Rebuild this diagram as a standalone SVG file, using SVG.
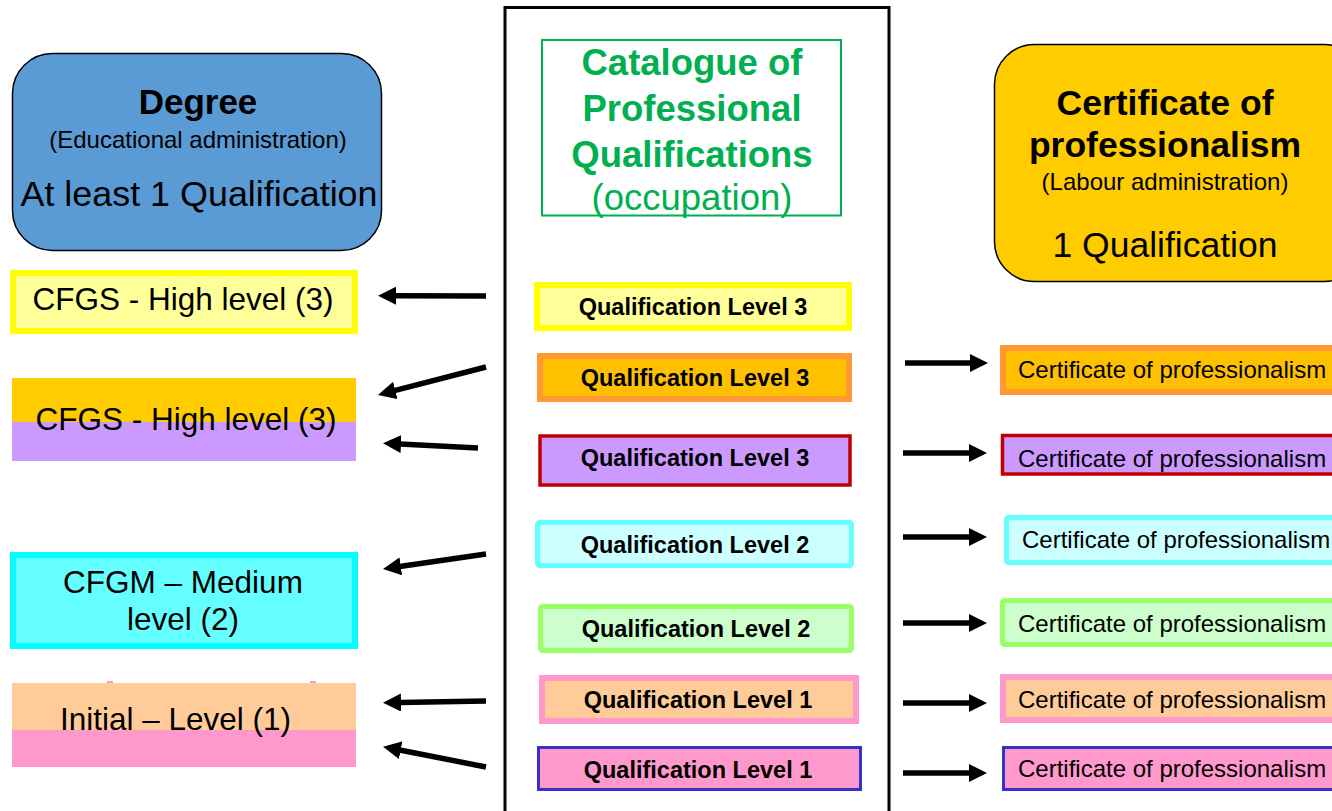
<svg xmlns="http://www.w3.org/2000/svg" width="1332" height="811" viewBox="0 0 1332 811">
<style>
text{font-family:"Liberation Sans",Arial,sans-serif;fill:#000}
.b{font-weight:bold}
.lt{font-size:31.5px}
.q{font-size:23.5px;font-weight:bold;text-anchor:middle}
.c{font-size:24px}
.m{text-anchor:middle}
.g{fill:#00B050}
.arr{stroke:#000;stroke-width:5.5;fill:none;marker-end:url(#ah)}
</style>
<defs>
<marker id="ah" markerUnits="userSpaceOnUse" markerWidth="18" markerHeight="18" refX="1" refY="9" orient="auto">
<path d="M0,0 L18,9 L0,18 z" fill="#000"/>
</marker>
</defs>
<rect width="1332" height="811" fill="#fff"/>

<g id="frame">
<rect x="505" y="7.5" width="384" height="830" fill="none" stroke="#000" stroke-width="3"/>
</g>

<g id="degree">
<rect x="12.5" y="53.5" width="369" height="197" rx="40" fill="#5B9BD5" stroke="#000" stroke-width="1.5"/>
<text x="198" y="114" class="b m" font-size="35">Degree</text>
<text x="198" y="148" class="m" font-size="24">(Educational administration)</text>
<text x="199" y="206" class="m" font-size="35.9">At least 1 Qualification</text>
</g>

<g id="certificate-main">
<rect x="994.5" y="44.5" width="370" height="237" rx="40" fill="#FFCC00" stroke="#000" stroke-width="1.5"/>
<text x="1165" y="115" class="b m" font-size="35.5">Certificate of</text>
<text x="1165" y="157" class="b m" font-size="35.5">professionalism</text>
<text x="1165" y="190" class="m" font-size="24">(Labour administration)</text>
<text x="1165" y="257" class="m" font-size="35.5">1 Qualification</text>
</g>

<g id="catalogue">
<rect x="542" y="40" width="299" height="175.5" fill="#fff" stroke="#00B050" stroke-width="2"/>
<text x="692" y="75" class="b m g" font-size="36.5">Catalogue of</text>
<text x="692" y="121" class="b m g" font-size="36.5">Professional</text>
<text x="692" y="167" class="b m g" font-size="36.5">Qualifications</text>
<text x="692" y="210" class="m g" font-size="36.5">(occupation)</text>
</g>

<g id="cfgs-1">
<rect x="13" y="273" width="342" height="58" fill="#FFFF99" stroke="#FFFF00" stroke-width="6"/>
<text x="183" y="310" class="m lt">CFGS - High level (3)</text>
</g>

<g id="cfgs-2">
<rect x="12" y="378" width="344" height="44" fill="#FFCC00"/>
<rect x="12" y="422" width="344" height="39" fill="#CC99FF"/>
<text x="186" y="430" class="m lt">CFGS - High level (3)</text>
</g>

<g id="cfgm">
<rect x="13" y="555" width="342" height="91" fill="#66FFFF" stroke="#00FFFF" stroke-width="6"/>
<text x="183" y="593" class="m lt">CFGM – Medium</text>
<text x="183" y="630" class="m lt">level (2)</text>
</g>

<g id="initial">
<rect x="107" y="681" width="6" height="3" fill="#FF99CC"/>
<rect x="310" y="681" width="6" height="3" fill="#FF99CC"/>
<rect x="12" y="683" width="344" height="47" fill="#FFCC99"/>
<rect x="12" y="730" width="344" height="37" fill="#FF99CC"/>
<text x="60" y="730" class="lt">Initial – Level (1)</text>
</g>

<g id="qual-1">
<rect x="537" y="285" width="312" height="43" fill="#FFFF99" stroke="#FFFF00" stroke-width="6"/>
<text x="693" y="315" class="q">Qualification Level 3</text>
</g>
<g id="qual-2">
<rect x="540" y="356" width="309" height="43" fill="#FFC000" stroke="#FF9933" stroke-width="6"/>
<text x="695" y="386" class="q">Qualification Level 3</text>
</g>
<g id="qual-3">
<rect x="540" y="436" width="310" height="49" fill="#CC99FF" stroke="#C00000" stroke-width="3.5"/>
<text x="695" y="466" class="q">Qualification Level 3</text>
</g>
<g id="qual-4">
<rect x="537.5" y="522.5" width="314" height="43" rx="2" fill="#CCFFFF" stroke="#66FFFF" stroke-width="5"/>
<text x="695" y="553" class="q">Qualification Level 2</text>
</g>
<g id="qual-5">
<rect x="540.5" y="606.5" width="311" height="44" rx="2" fill="#CCFFCC" stroke="#99FF66" stroke-width="5"/>
<text x="696" y="637" class="q">Qualification Level 2</text>
</g>
<g id="qual-6">
<rect x="542" y="678" width="314" height="43" fill="#FFCC99" stroke="#FF99CC" stroke-width="6"/>
<text x="698" y="708" class="q">Qualification Level 1</text>
</g>
<g id="qual-7">
<rect x="538.5" y="747.5" width="322" height="42" fill="#FF99CC" stroke="#3333CC" stroke-width="3"/>
<text x="698" y="778" class="q">Qualification Level 1</text>
</g>

<g id="cert-1">
<rect x="1003" y="348" width="345" height="44" fill="#FFC000" stroke="#FF9933" stroke-width="6"/>
<text x="1018" y="378" class="c">Certificate of professionalism</text>
</g>
<g id="cert-2">
<rect x="1002.5" y="435.5" width="345" height="38.5" fill="#CC99FF" stroke="#C00000" stroke-width="3.5"/>
<text x="1018" y="467" class="c">Certificate of professionalism</text>
</g>
<g id="cert-3">
<rect x="1006.5" y="517.5" width="345" height="45" rx="2" fill="#CCFFFF" stroke="#66FFFF" stroke-width="5"/>
<text x="1022" y="548" class="c">Certificate of professionalism</text>
</g>
<g id="cert-4">
<rect x="1002.5" y="600.5" width="345" height="44" rx="2" fill="#CCFFCC" stroke="#99FF66" stroke-width="5"/>
<text x="1018" y="632" class="c">Certificate of professionalism</text>
</g>
<g id="cert-5">
<rect x="1003" y="677" width="345" height="43" fill="#FFCC99" stroke="#FF99CC" stroke-width="6"/>
<text x="1018" y="708" class="c">Certificate of professionalism</text>
</g>
<g id="cert-6">
<rect x="1003.5" y="747.5" width="345" height="42" fill="#FF99CC" stroke="#3333CC" stroke-width="3"/>
<text x="1018" y="777" class="c">Certificate of professionalism</text>
</g>

<g id="connectors">
<line class="arr" x1="486" y1="296" x2="395" y2="295.7"/>
<line class="arr" x1="486" y1="367" x2="394.4" y2="390.7"/>
<line class="arr" x1="478" y1="448" x2="400" y2="444"/>
<line class="arr" x1="486" y1="554" x2="399.8" y2="566.5"/>
<line class="arr" x1="486" y1="701" x2="400" y2="702.5"/>
<line class="arr" x1="486" y1="767" x2="399.7" y2="750"/>
<line class="arr" x1="905" y1="363" x2="971" y2="363"/>
<line class="arr" x1="903" y1="453" x2="970" y2="453"/>
<line class="arr" x1="903" y1="537" x2="970" y2="537"/>
<line class="arr" x1="903" y1="623" x2="970" y2="623"/>
<line class="arr" x1="903" y1="703" x2="970" y2="703"/>
<line class="arr" x1="903" y1="773" x2="970" y2="773"/>
</g>
</svg>
